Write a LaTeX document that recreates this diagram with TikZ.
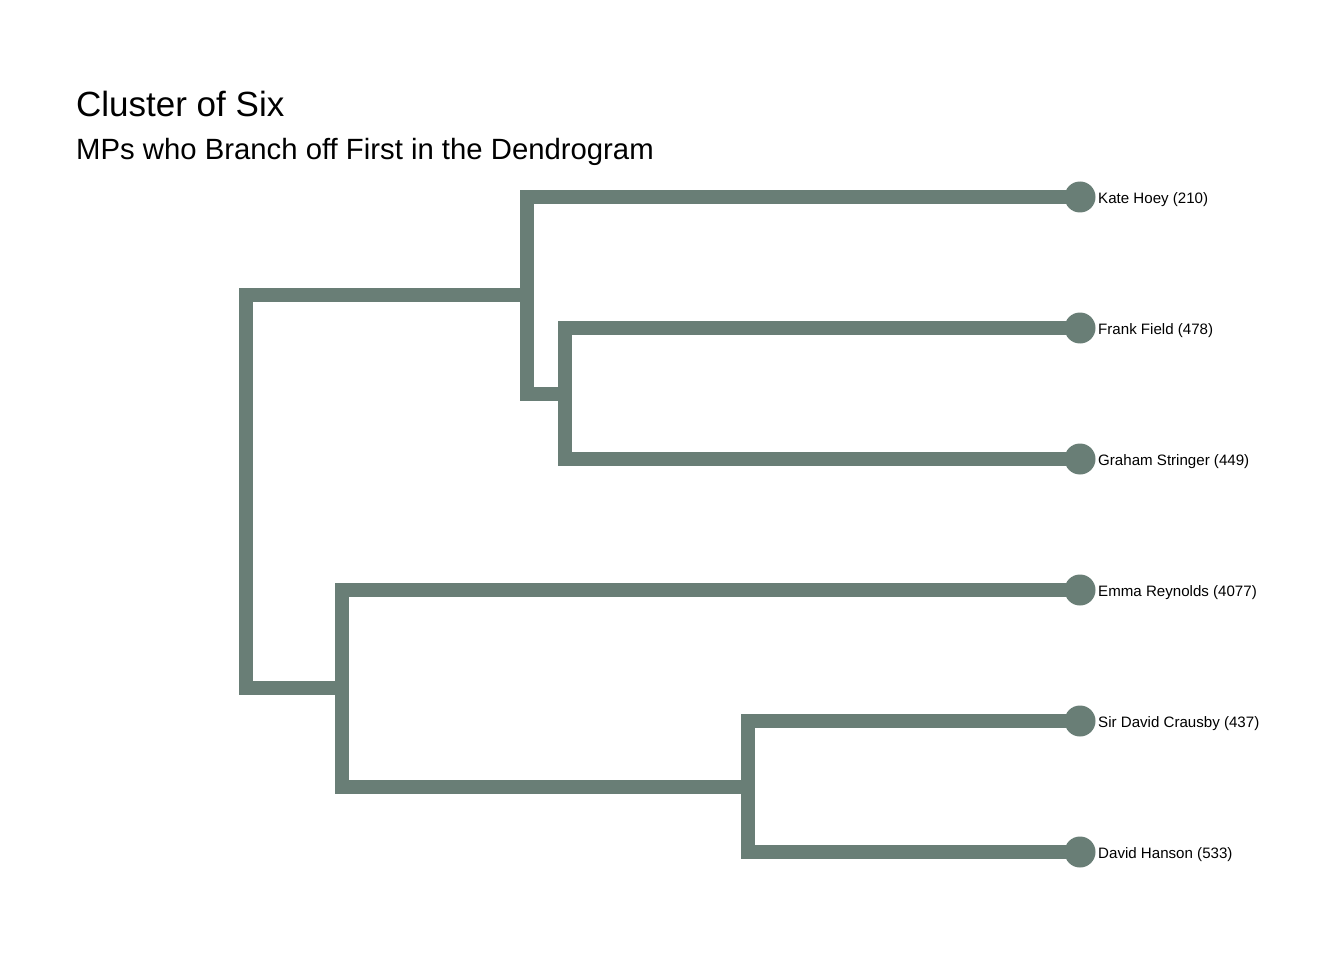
\documentclass[tikz,border=0pt]{standalone}
\usepackage{fontspec}
\setmainfont{Liberation Sans}
\definecolor{branch}{RGB}{105,126,118}
\begin{document}
\begin{tikzpicture}[x=1pt,y=-1pt,
  edge/.style={draw=branch,line width=14pt,line cap=square,line join=miter},
  leafdot/.style={circle,fill=branch,draw=none,minimum size=31pt,inner sep=0pt},
  leaflabel/.style={anchor=base west,inner sep=0pt,font=\fontsize{15.1}{18}\selectfont},
  titletext/.style={anchor=base west,inner sep=0pt,font=\fontsize{35}{40}\selectfont},
  subtitletext/.style={anchor=base west,inner sep=0pt,font=\fontsize{29.3}{34}\selectfont}]
\useasboundingbox[fill=white] (0,0) rectangle (1344,960);
\node[titletext] (title) at (76,117) {Cluster of Six};
\node[subtitletext] (subtitle) at (76,160) {MPs who Branch off First in the Dendrogram};
% junctions
\coordinate (root) at (246,491);
\coordinate (top) at (527,295);
\coordinate (fg) at (565,393.5);
\coordinate (bot) at (342,687.5);
\coordinate (ds) at (748,786.5);
% leaves
\coordinate (kate) at (1080,197);
\coordinate (frank) at (1080,328);
\coordinate (graham) at (1080,459);
\coordinate (emma) at (1080,590);
\coordinate (crausby) at (1080,721);
\coordinate (hanson) at (1080,852);
% edges
\draw[edge] (root) |- (top);
\draw[edge] (root) |- (bot);
\draw[edge] (top) |- (kate);
\draw[edge] (top) |- (fg);
\draw[edge] (fg) |- (frank);
\draw[edge] (fg) |- (graham);
\draw[edge] (bot) |- (emma);
\draw[edge] (bot) |- (ds);
\draw[edge] (ds) |- (crausby);
\draw[edge] (ds) |- (hanson);
% dots
\node[leafdot] (kated) at (kate) {};
\node[leafdot] (frankd) at (frank) {};
\node[leafdot] (grahamd) at (graham) {};
\node[leafdot] (emmad) at (emma) {};
\node[leafdot] (crausbyd) at (crausby) {};
\node[leafdot] (hansond) at (hanson) {};
% labels
\node[leaflabel] (katel) at (1098,203.5) {Kate Hoey (210)};
\node[leaflabel] (frankl) at (1098,334.5) {Frank Field (478)};
\node[leaflabel] (grahaml) at (1098,465.5) {Graham Stringer (449)};
\node[leaflabel] (emmal) at (1098,596.5) {Emma Reynolds (4077)};
\node[leaflabel] (crausbyl) at (1098,727.5) {Sir David Crausby (437)};
\node[leaflabel] (hansonl) at (1098,858.5) {David Hanson (533)};
\end{tikzpicture}
\end{document}
